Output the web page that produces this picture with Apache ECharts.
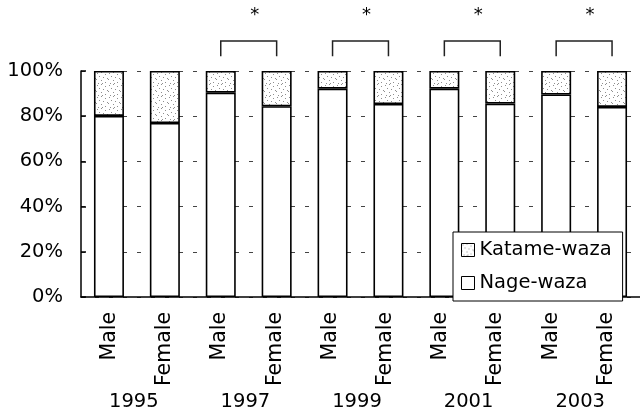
<!DOCTYPE html>
<html>
<head>
<meta charset="utf-8">
<script src="https://cdn.jsdelivr.net/npm/echarts@6/dist/echarts.min.js"></script>
<style>
  html, body { margin: 0; padding: 0; background: #fff; }
  #chart { width: 640px; height: 412px; }
</style>
</head>
<body>
<div id="chart"></div>
<script>
// Share of judo techniques by year and sex (percent of all scoring techniques)
const years = ['1995', '1997', '1999', '2001', '2003'];
const sexes = ['Male', 'Female', 'Male', 'Female', 'Male', 'Female', 'Male', 'Female', 'Male', 'Female'];
const barKeys = ['1995 M', '1995 F', '1997 M', '1997 F', '1999 M', '1999 F', '2001 M', '2001 F', '2003 M', '2003 F'];
const nageWaza = [80.1, 77.0, 90.4, 84.4, 92.2, 85.4, 92.2, 85.6, 89.6, 84.1];
const katameWaza = [19.9, 23.0, 9.6, 15.6, 7.8, 14.6, 7.8, 14.4, 10.4, 15.9];
// Male/Female pairs with a significant difference (bar indices)
const significantPairs = [[2, 3], [4, 5], [6, 7], [8, 9]];
const yTicks = [0, 20, 40, 60, 80, 100];

const FONT = 'DejaVu Sans';

// Light grey stipple texture for the Katame-waza segments
function stipple() {
  const c = document.createElement('canvas');
  c.width = 12; c.height = 12;
  const g = c.getContext('2d');
  g.fillStyle = '#fff';
  g.fillRect(0, 0, 12, 12);
  g.fillStyle = '#8f8f8f';
  [[1, 1], [5, 0], [9, 2], [3, 4], [7, 5], [11, 6], [0, 7], [5, 8], [9, 10], [2, 11], [6, 11]].forEach(function (p) {
    g.fillRect(p[0], p[1], 1, 1);
  });
  return { image: c, repeat: 'repeat' };
}
const dots = stipple();

const chart = echarts.init(document.getElementById('chart'), null, { renderer: 'canvas' });

const barStyle = { borderColor: '#000', borderWidth: 1.6 };

chart.setOption({
  animation: false,
  backgroundColor: '#fff',
  textStyle: { fontFamily: FONT, color: '#000' },
  grid: [
    { left: 81, width: 565, top: 71, height: 226 },
    { left: 82, width: 552, top: 71, height: 226 },
    { left: 78, width: 558, top: 71, height: 226 }
  ],
  legend: {
    orient: 'vertical',
    left: 453,
    top: 232,
    padding: [8, 11, 8, 8],
    itemGap: 13,
    itemWidth: 13,
    itemHeight: 13,
    itemTextGap: 7,
    backgroundColor: '#fff',
    borderColor: '#000',
    borderWidth: 1,
    icon: 'rect',
    itemStyle: { borderColor: '#000', borderWidth: 1 },
    textStyle: { fontFamily: FONT, fontSize: 19.5, color: '#000' },
    data: ['Katame-waza', 'Nage-waza']
  },
  xAxis: [
    {
      type: 'category',
      gridIndex: 0,
      data: barKeys,
      axisLine: { lineStyle: { color: '#000', width: 1.5 } },
      axisTick: { inside: true, length: 5, lineStyle: { color: '#000', width: 1.5 } },
      axisLabel: { show: false }
    },
    {
      type: 'category',
      gridIndex: 1,
      data: sexes,
      axisLine: { show: false },
      axisTick: { show: false },
      axisLabel: { rotate: 90, margin: 15, fontFamily: FONT, fontSize: 20.5, color: '#000', interval: 0 }
    },
    {
      type: 'category',
      gridIndex: 2,
      data: years,
      position: 'bottom',
      offset: 95,
      axisLine: { show: false },
      axisTick: { show: false },
      axisLabel: { margin: 0, fontFamily: FONT, fontSize: 19.5, color: '#000', interval: 0 }
    }
  ],
  yAxis: [
    {
      type: 'value',
      gridIndex: 0,
      min: 0,
      max: 100,
      interval: 20,
      axisLine: { show: true, lineStyle: { color: '#000', width: 1.5 } },
      axisTick: { show: true, inside: true, length: 5, lineStyle: { color: '#000', width: 1.5 } },
      axisLabel: {
        margin: 18,
        fontFamily: FONT,
        fontSize: 19.5,
        color: '#000',
        formatter: function (v) { return yTicks.indexOf(v) >= 0 ? v + '%' : ''; }
      },
      splitLine: { show: true, lineStyle: { color: '#444', width: 1, type: [4, 10] } }
    },
    { type: 'value', gridIndex: 1, min: 0, max: 100, show: false },
    { type: 'value', gridIndex: 2, min: 0, max: 100, show: false }
  ],
  series: [
    {
      name: 'Nage-waza',
      type: 'bar',
      stack: 'techniques',
      xAxisIndex: 0,
      yAxisIndex: 0,
      barWidth: 30,
      itemStyle: Object.assign({ color: '#fff' }, barStyle),
      data: nageWaza
    },
    {
      name: 'Katame-waza',
      type: 'bar',
      stack: 'techniques',
      xAxisIndex: 0,
      yAxisIndex: 0,
      barWidth: 30,
      itemStyle: Object.assign({ color: dots }, barStyle),
      data: katameWaza
    },
    {
      name: 'significance',
      type: 'custom',
      xAxisIndex: 0,
      yAxisIndex: 0,
      clip: false,
      z: 5,
      data: significantPairs,
      renderItem: function (params, api) {
        const low = 106.5, high = 113.3, star = 124.5;
        const a = api.coord([api.value(0), low]);
        const b = api.coord([api.value(1), low]);
        const yTop = api.coord([api.value(0), high])[1];
        const yStar = api.coord([api.value(0), star])[1];
        return {
          type: 'group',
          children: [
            {
              type: 'polyline',
              shape: { points: [[a[0], a[1]], [a[0], yTop], [b[0], yTop], [b[0], b[1]]] },
              style: { stroke: '#222', lineWidth: 1.5, fill: null }
            },
            {
              type: 'text',
              x: (a[0] + b[0]) / 2 + 6,
              y: yStar,
              style: {
                text: '*',
                fontFamily: FONT,
                fontSize: 18,
                fill: '#000',
                align: 'center',
                verticalAlign: 'middle'
              }
            }
          ]
        };
      }
    }
  ]
});
</script>
</body>
</html>
